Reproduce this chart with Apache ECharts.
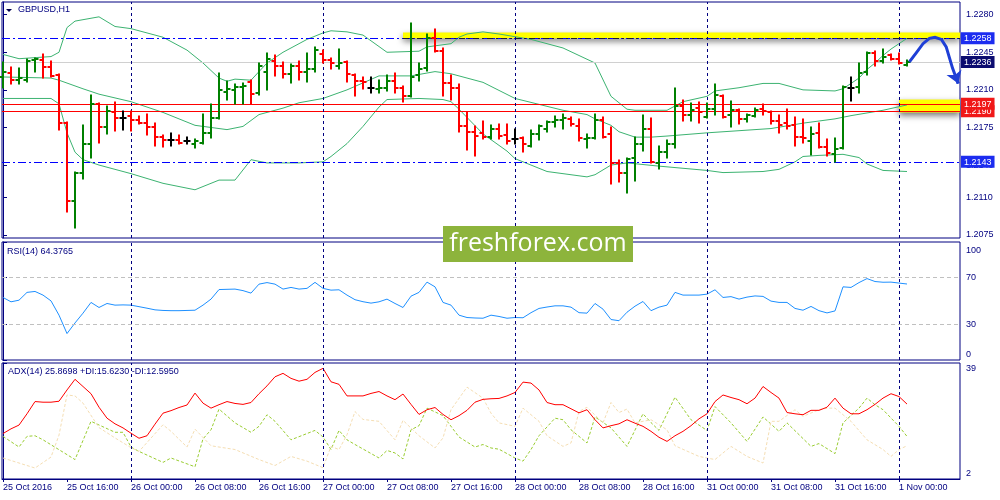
<!DOCTYPE html>
<html><head><meta charset="utf-8">
<script src="https://cdn.jsdelivr.net/npm/echarts@6/dist/echarts.min.js"></script>
<style>html,body{margin:0;padding:0;background:#fff}#c{width:1000px;height:500px}</style>
</head><body><div id="c"></div><script>
// ---------------- DATA ----------------
const timeTickIdx = [0,8,16,24,32,40,48,56,64,72,80,88,96,104,112];
const timeLabels = ["25 Oct 2016","25 Oct 16:00","26 Oct 00:00","26 Oct 08:00","26 Oct 16:00","27 Oct 00:00","27 Oct 08:00","27 Oct 16:00","28 Oct 00:00","28 Oct 08:00","28 Oct 16:00","31 Oct 00:00","31 Oct 08:00","31 Oct 16:00","1 Nov 00:00"];
const daySeparators = [16,40,64,88,112];
const priceTicks = [1.2075,1.2110,1.2140,1.2175,1.2210,1.2245,1.2280];
const markPrices = [1.2143,1.2190,1.2197,1.2236,1.2258];
const rsiTicks = [0,30,70,100];
const rsiLevels = [70,30];
const adxTicks = [2,39];

const opens = [
1.2222,1.2226,1.2219,1.2219,1.2238,1.2238,1.2231,1.2224,1.2179,1.2107,
1.2133,1.2160,1.2197,1.2175,1.2189,1.2184,1.2186,1.2182,1.2179,1.2175,
1.2166,1.2163,1.2163,1.2162,1.2160,1.2161,1.2170,1.2184,1.2208,1.2210,
1.2213,1.2217,1.2207,1.2227,1.2237,1.2232,1.2225,1.2232,1.2227,1.2229,
1.2243,1.2238,1.2232,1.2236,1.2224,1.2218,1.2212,1.2211,1.2212,1.2218,
1.2212,1.2204,1.2224,1.2230,1.2258,1.2246,1.2216,1.2212,1.2176,1.2171,
1.2170,1.2166,1.2174,1.2168,1.2164,1.2165,1.2158,1.2169,1.2174,1.2180,
1.2182,1.2183,1.2176,1.2164,1.2165,1.2182,1.2169,1.2142,1.2133,1.2147,
1.2160,1.2174,1.2142,1.2152,1.2160,1.2195,1.2187,1.2193,1.2185,1.2192,
1.2204,1.2187,1.2191,1.2183,1.2186,1.2192,1.2189,1.2181,1.2179,1.2177,
1.2166,1.2162,1.2170,1.2157,1.2150,1.2156,1.2212,1.2213,1.2227,1.2244,
1.2237,1.2242,1.2239,1.2233];
const highs = [
1.2236,1.2231,1.2230,1.2239,1.2240,1.2243,1.2237,1.2225,1.2180,1.2134,
1.2177,1.2205,1.2198,1.2195,1.2199,1.2190,1.2190,1.2186,1.2188,1.2179,
1.2168,1.2170,1.2168,1.2166,1.2164,1.2188,1.2197,1.2226,1.2218,1.2215,
1.2216,1.2219,1.2235,1.2244,1.2242,1.2236,1.2234,1.2237,1.2244,1.2250,
1.2247,1.2240,1.2248,1.2237,1.2225,1.2222,1.2222,1.2219,1.2224,1.2226,
1.2214,1.2272,1.2235,1.2262,1.2267,1.2249,1.2224,1.2215,1.2189,1.2176,
1.2181,1.2177,1.2178,1.2178,1.2174,1.2166,1.2173,1.2177,1.2181,1.2186,
1.2188,1.2185,1.2183,1.2169,1.2188,1.2185,1.2175,1.2145,1.2147,1.2166,
1.2187,1.2184,1.2158,1.2163,1.2212,1.2201,1.2198,1.2199,1.2198,1.2215,
1.2205,1.2200,1.2192,1.2188,1.2193,1.2197,1.2190,1.2187,1.2192,1.2185,
1.2183,1.2175,1.2179,1.2164,1.2165,1.2214,1.2222,1.2235,1.2245,1.2246,
1.2248,1.2243,1.2244,1.2238];
const lows = [
1.2212,1.2215,1.2215,1.2217,1.2227,1.2221,1.2222,1.2173,1.2096,1.2081,
1.2127,1.2147,1.2161,1.2169,1.2172,1.2173,1.2172,1.2178,1.2168,1.2158,
1.2157,1.2158,1.2160,1.2160,1.2156,1.2160,1.2165,1.2183,1.2201,1.2197,
1.2197,1.2197,1.2205,1.2210,1.2223,1.2221,1.2216,1.2219,1.2217,1.2227,
1.2235,1.2229,1.2229,1.2217,1.2204,1.2211,1.2207,1.2207,1.2209,1.2207,
1.2199,1.2203,1.2218,1.2228,1.2245,1.2204,1.2201,1.2171,1.2154,1.2148,
1.2164,1.2164,1.2164,1.2160,1.2160,1.2152,1.2157,1.2163,1.2171,1.2175,
1.2174,1.2176,1.2162,1.2156,1.2164,1.2165,1.2122,1.2124,1.2114,1.2125,
1.2153,1.2142,1.2136,1.2147,1.2156,1.2181,1.2181,1.2179,1.2184,1.2187,
1.2184,1.2175,1.2178,1.2180,1.2185,1.2187,1.2178,1.2170,1.2174,1.2158,
1.2161,1.2149,1.2156,1.2148,1.2143,1.2155,1.2200,1.2207,1.2224,1.2232,
1.2235,1.2238,1.2234,1.2232];
const closes = [
1.2227,1.2219,1.2221,1.2237,1.2239,1.2231,1.2223,1.2179,1.2107,1.2133,
1.2160,1.2197,1.2175,1.2190,1.2184,1.2184,1.2182,1.2179,1.2175,1.2166,
1.2163,1.2163,1.2161,1.2162,1.2162,1.2170,1.2184,1.2210,1.2211,1.2213,
1.2214,1.2206,1.2232,1.2239,1.2232,1.2225,1.2232,1.2227,1.2229,1.2247,
1.2238,1.2235,1.2235,1.2225,1.2218,1.2217,1.2212,1.2212,1.2218,1.2212,
1.2204,1.2222,1.2229,1.2258,1.2246,1.2216,1.2212,1.2176,1.2171,1.2167,
1.2166,1.2174,1.2167,1.2162,1.2164,1.2160,1.2169,1.2176,1.2180,1.2182,
1.2184,1.2178,1.2165,1.2165,1.2182,1.2166,1.2142,1.2133,1.2146,1.2160,
1.2174,1.2143,1.2152,1.2160,1.2195,1.2187,1.2191,1.2189,1.2192,1.2205,
1.2185,1.2191,1.2183,1.2187,1.2191,1.2190,1.2181,1.2177,1.2176,1.2166,
1.2165,1.2169,1.2157,1.2151,1.2155,1.2213,1.2212,1.2226,1.2244,1.2237,
1.2241,1.2239,1.2235,1.2236];

const upperBand = [[0,1.2243],[2,1.2239],[6,1.2241],[7,1.2245],[8,1.2268],[9,1.2274],[12,1.2278],[14,1.2269],[16,1.2267],[20,1.2259],[23,1.2247],[25,1.2235],[27,1.2221],[28,1.2218],[29,1.2220],[31,1.2219],[33,1.2235],[35,1.2245],[38,1.2257],[40,1.2263],[41,1.2265],[43,1.2264],[45,1.2261],[48,1.2245],[52,1.2246],[53,1.2250],[56,1.2253],[57,1.2259],[58,1.2262],[60,1.2264],[62,1.2262],[66,1.2257],[70,1.2249],[74,1.2235],[76,1.2204],[78,1.2192],[79,1.2191],[82,1.2191],[83,1.2191],[85,1.2199],[88,1.2204],[89,1.2209],[92,1.2212],[95,1.2216],[97,1.2216],[100,1.2210],[104,1.2209],[105,1.2211],[106,1.2216],[107,1.2221],[108,1.2229],[109,1.2235],[110,1.2242],[111,1.2248],[112,1.2253],[113,1.2258]];
const middleBand = [[0,1.2222],[6,1.2221],[7,1.2219],[10,1.2211],[12,1.2206],[16,1.2199],[20,1.2189],[24,1.2177],[28,1.2173],[30,1.2176],[32,1.2187],[35,1.2193],[37,1.2198],[40,1.2202],[43,1.2210],[47,1.2223],[51,1.2223],[54,1.2227],[56,1.2225],[58,1.2221],[60,1.2217],[64,1.2202],[70,1.2191],[73,1.2187],[74,1.2183],[76,1.2177],[77,1.2171],[79,1.2166],[81,1.2166],[83,1.2167],[88,1.2170],[92,1.2172],[96,1.2174],[100,1.2179],[104,1.2183],[106,1.2186],[110,1.2191],[113,1.2196]];
const lowerBand = [[0,1.2202],[6,1.2202],[7,1.2197],[8,1.2170],[9,1.2152],[10,1.2145],[12,1.2140],[16,1.2132],[20,1.2123],[24,1.2117],[27,1.2126],[29,1.2126],[31,1.2145],[33,1.2142],[37,1.2142],[40,1.2143],[41,1.2148],[43,1.2160],[45,1.2176],[47,1.2194],[48,1.2201],[52,1.2202],[55,1.2201],[56,1.2199],[57,1.2192],[60,1.2169],[63,1.2153],[64,1.2146],[68,1.2134],[73,1.2129],[74,1.2131],[76,1.2140],[78,1.2142],[82,1.2139],[85,1.2137],[88,1.2135],[90,1.2133],[95,1.2134],[97,1.2136],[99,1.2143],[100,1.2148],[102,1.2149],[105,1.2150],[107,1.2147],[108,1.2141],[110,1.2135],[113,1.2134]];

const rsiValues = [
53.0,49.3,50.7,57.3,58.1,55.0,50.1,38.0,22.4,31.4,
39.7,48.8,44.5,47.9,46.5,46.7,46.5,45.2,43.9,42.5,
42.0,41.8,41.8,42.0,42.2,46.5,51.6,59.7,59.9,60.1,
58.8,56.7,64.3,65.6,64.3,60.1,61.5,60.1,60.7,65.8,
60.7,59.2,59.5,55.0,51.1,49.4,48.2,49.3,51.6,47.9,
44.5,54.1,57.3,66.0,62.0,48.8,46.5,38.0,36.0,35.6,
35.4,38.0,36.9,35.4,36.0,35.8,40.1,43.7,44.9,45.9,
45.9,44.8,40.1,39.7,47.9,43.1,34.3,33.3,40.5,45.6,
49.6,41.8,44.8,46.5,57.3,55.0,55.0,55.0,55.8,59.5,
53.0,53.7,51.6,53.3,54.3,53.9,49.9,48.8,48.8,43.7,
42.2,45.4,41.8,39.9,41.6,62.0,61.5,65.6,69.0,66.5,
65.9,66.0,65.2,64.4];

const adxValues = [
16.5,18.0,19.2,22.8,26.7,26.5,26.5,26.8,30.4,33.8,
31.5,29.2,24.9,21.4,19.6,18.3,16.6,15.0,15.8,19.5,
23.0,23.8,24.8,25.6,29.4,26.2,24.6,25.7,26.7,26.1,
25.8,26.4,29.2,31.7,34.6,35.7,34.1,33.2,33.8,36.0,
37.3,33.0,32.2,28.5,28.5,28.5,29.3,29.9,28.5,27.3,
29.1,25.8,22.6,24.1,24.8,22.6,20.9,22.2,23.9,26.5,
27.4,27.6,27.7,28.5,29.6,32.9,32.6,30.4,26.4,25.7,
25.7,24.4,23.1,24.1,20.9,18.3,19.0,19.6,20.9,19.8,
18.8,17.2,15.3,14.0,15.8,17.2,19.0,21.2,22.8,26.7,
28.8,28.0,27.3,26.0,27.8,31.5,29.6,27.8,23.2,22.8,
22.5,23.9,23.9,24.9,27.8,24.6,22.8,22.8,24.1,25.8,
27.8,29.2,28.3,25.9];

const plusDI = [[0,15.6],[2,12.2],[3,15.6],[4,15.8],[5,14.5],[9,8.2],[11,20.4],[14,16.9],[15,16.9],[16,12.2],[17,10.8],[20,7.3],[21,8.7],[24,5.9],[25,14.8],[26,17.7],[27,24.3],[29,19.9],[31,16.9],[32,18.8],[33,22.5],[34,20.4],[36,14.5],[39,17.5],[40,15.4],[41,11.4],[42,17.5],[43,14.5],[44,13.0],[47,8.7],[48,11.1],[49,10.3],[50,8.4],[51,17.7],[52,19.0],[53,24.6],[55,22.2],[57,15.4],[59,12.2],[60,13.0],[61,11.9],[62,11.5],[64,8.7],[65,7.7],[66,11.4],[67,15.8],[69,21.4],[70,20.9],[71,17.7],[73,13.5],[74,21.8],[76,18.3],[78,12.4],[80,22.8],[81,20.0],[82,17.5],[84,28.1],[86,20.9],[88,17.5],[89,25.1],[91,19.9],[93,14.0],[95,21.8],[97,17.2],[98,19.9],[101,12.4],[102,13.3],[104,10.1],[105,19.9],[107,24.6],[108,27.8],[109,25.7],[110,24.1],[112,18.8],[113,15.6]];
const minusDI = [[0,8.7],[2,7.1],[4,5.5],[6,9.0],[7,16.0],[8,28.8],[9,28.5],[10,26.2],[12,18.4],[14,15.1],[16,12.0],[17,10.8],[20,19.3],[21,17.2],[23,12.2],[24,17.9],[26,12.6],[29,11.4],[32,8.2],[34,6.3],[36,9.2],[38,7.7],[40,5.6],[41,12.4],[42,11.4],[43,16.1],[44,23.5],[45,21.0],[47,20.4],[49,14.5],[50,20.7],[52,15.8],[54,11.9],[55,15.1],[56,24.1],[58,31.3],[60,27.8],[61,23.0],[62,19.9],[64,18.8],[65,24.6],[67,20.4],[68,15.8],[70,12.4],[71,13.5],[72,23.5],[73,24.9],[75,19.9],[76,26.4],[77,23.2],[78,24.3],[79,19.9],[81,20.9],[83,17.7],[84,12.6],[87,9.2],[89,8.2],[91,12.4],[93,9.2],[95,7.1],[96,20.4],[97,20.4],[99,24.1],[100,22.0],[102,24.1],[103,24.6],[104,24.6],[106,20.4],[108,14.5],[110,11.4],[111,9.2],[112,11.4],[113,12.6]];

// hand-drawn forecast arrow (bar index, price)
const arrowPath = [[113.3,1.2236],[114.2,1.2245],[115.0,1.2253],[115.8,1.2258],[116.5,1.2259],[117.3,1.2257],[117.9,1.2250],[118.3,1.2240],[118.7,1.2230],[119.0,1.2224],[119.4,1.2216]];
// highlight zones [startIndex, lowPrice, highPrice]
const zoneTop = [50, 1.2258, 1.22635];
const zoneBottom = [112, 1.2189, 1.2201];

// ---------------- CHART ----------------
const FONT = '"Liberation Sans", Arial, sans-serif';
const NAVY = '#000080';
const XMIN = -0.125, XMAX = 119.625;
const chart = echarts.init(document.getElementById('c'));
const barData = opens.map((o,i)=>[i,o,highs[i],lows[i],closes[i]]);
const near = (a,b)=>Math.abs(a-b)<1e-7;

function renderBar(params, api){
  const i=api.value(0), o=api.value(1), h=api.value(2), l=api.value(3), c=api.value(4);
  const pH=api.coord([i,h]), pL=api.coord([i,l]), pO=api.coord([i,o]), pC=api.coord([i,c]);
  const col = c>o ? '#008000' : (c<o ? '#ff0000' : '#000000');
  const x = Math.round(pH[0]);
  const st = {stroke:col, lineWidth:2};
  return {type:'group', children:[
    {type:'line', shape:{x1:x, y1:Math.round(pH[1])-0.5, x2:x, y2:Math.round(pL[1])+0.5}, style:st},
    {type:'line', shape:{x1:x-3.5, y1:Math.round(pO[1]), x2:x, y2:Math.round(pO[1])}, style:st},
    {type:'line', shape:{x1:x, y1:Math.round(pC[1]), x2:x+3.5, y2:Math.round(pC[1])}, style:st}
  ]};
}
const dayLines = {silent:true, symbol:['none','none'], label:{show:false}, emphasis:{disabled:true},
  lineStyle:{color:NAVY, type:[3,3], width:1}, data: daySeparators.map(v=>({xAxis:v}))};

function xAx(gi, show){
  const a = {gridIndex:gi, type:'value', min:XMIN, max:XMAX, splitLine:{show:false}};
  if(!show){ a.show=false; return a; }
  a.axisLine={show:true, lineStyle:{color:NAVY}};
  a.axisTick={show:true, length:3, customValues:timeTickIdx, lineStyle:{color:NAVY}};
  a.axisLabel={customValues:timeTickIdx, formatter:v=>timeLabels[timeTickIdx.indexOf(v)], align:'left',
    color:NAVY, fontSize:9, fontFamily:FONT, margin:4};
  return a;
}
const markStyle = ['blue','red','red','navy','blue'];
const boxBase = {color:'#fff', fontSize:9, fontFamily:FONT, padding:[2,3,1,3]};
const lastSeg = arrowPath.slice(-2);

const option = {
  animation:false,
  backgroundColor:'#ffffff',
  grid:[
    {left:2, top:2, width:958, height:236, show:true, borderColor:NAVY, borderWidth:1},
    {left:2, top:242, width:958, height:118, show:true, borderColor:NAVY, borderWidth:1},
    {left:2, top:363, width:958, height:116, show:true, borderColor:NAVY, borderWidth:1}
  ],
  xAxis:[xAx(0,false), xAx(1,false), xAx(2,true)],
  yAxis:[
    {gridIndex:0, type:'value', position:'right', min:1.20721, max:1.22918, splitLine:{show:false},
     axisLine:{show:true, lineStyle:{color:NAVY}},
     axisTick:{show:true, length:4, customValues:priceTicks, lineStyle:{color:NAVY}},
     axisLabel:{customValues:priceTicks, formatter:v=>v.toFixed(4), color:NAVY, fontSize:9, fontFamily:FONT, margin:6}},
    {gridIndex:0, type:'value', position:'right', offset:0, min:1.20721, max:1.22918, splitLine:{show:false},
     axisLine:{show:false}, axisTick:{show:false}, z:10,
     axisLabel:{customValues:markPrices, margin:1,
       formatter:v=>{const k=markPrices.findIndex(p=>near(p,v)); return '{'+markStyle[k]+'|'+v.toFixed(4)+'}';},
       rich:{blue:Object.assign({backgroundColor:'#1c2cf0'},boxBase),
             navy:Object.assign({backgroundColor:'#0c0c70'},boxBase),
             red:Object.assign({backgroundColor:'#f01818'},boxBase)}}},
    {gridIndex:1, type:'value', position:'right', min:0, max:100, splitLine:{show:false},
     axisLine:{show:true, lineStyle:{color:NAVY}},
     axisTick:{show:true, length:4, customValues:rsiTicks, lineStyle:{color:NAVY}},
     axisLabel:{customValues:rsiTicks, margin:6, color:NAVY, fontSize:9, fontFamily:FONT,
       formatter:v=> v===100 ? '{t|100}' : (v===0 ? '{b|0}' : String(v)),
       rich:{t:{padding:[18,0,0,0], color:NAVY, fontSize:9, fontFamily:FONT},
             b:{padding:[0,0,10,0], color:NAVY, fontSize:9, fontFamily:FONT}}}},
    {gridIndex:2, type:'value', position:'right', min:2, max:39, splitLine:{show:false},
     axisLine:{show:true, lineStyle:{color:NAVY}},
     axisTick:{show:true, length:4, customValues:adxTicks, lineStyle:{color:NAVY}},
     axisLabel:{customValues:adxTicks, margin:6, color:NAVY, fontSize:9, fontFamily:FONT,
       formatter:v=> v===39 ? '{t|39}' : '{b|2}',
       rich:{t:{padding:[12,0,0,0], color:NAVY, fontSize:9, fontFamily:FONT},
             b:{padding:[0,0,10,0], color:NAVY, fontSize:9, fontFamily:FONT}}}}
  ],
  series:[
    {type:'line', name:'bbUpper', xAxisIndex:0, yAxisIndex:0, data:upperBand, symbol:'none', z:2,
     lineStyle:{color:'#3cb371', width:1}, silent:true},
    {type:'line', name:'bbMiddle', xAxisIndex:0, yAxisIndex:0, data:middleBand, symbol:'none', z:2,
     lineStyle:{color:'#3cb371', width:1}, silent:true,
     markArea:{silent:true, itemStyle:{color:'#ffff00', shadowBlur:6, shadowColor:'rgba(0,0,0,0.55)', shadowOffsetY:3},
       data:[[{coord:[zoneTop[0],zoneTop[1]]},{coord:[XMAX,zoneTop[2]]}],
             [{coord:[zoneBottom[0],zoneBottom[1]]},{coord:[XMAX,zoneBottom[2]]}]]},
     markLine:{silent:true, precision:6, symbol:['none','none'], label:{show:false}, emphasis:{disabled:true},
       data:[
         {yAxis:markPrices[4], lineStyle:{color:'#0000ff', type:[8,3,2,3], width:1}},
         [{coord:[zoneTop[0],markPrices[4]], lineStyle:{color:'#1a1a30', type:[6,3,2,3], width:1}},{coord:[XMAX,markPrices[4]]}],
         {yAxis:markPrices[3], lineStyle:{color:'#d0d0d0', type:'solid', width:1}},
         {yAxis:markPrices[2], lineStyle:{color:'#ff0000', type:'solid', width:1}},
         {yAxis:markPrices[1], lineStyle:{color:'#ff0000', type:'solid', width:1}},
         {yAxis:markPrices[0], lineStyle:{color:'#0000ff', type:[8,3,2,3], width:1}}
       ]}},
    {type:'line', name:'bbLower', xAxisIndex:0, yAxisIndex:0, data:lowerBand, symbol:'none', z:2,
     lineStyle:{color:'#3cb371', width:1}, silent:true},
    {type:'custom', name:'bars', xAxisIndex:0, yAxisIndex:0, data:barData, renderItem:renderBar, z:5,
     encode:{x:0, y:[1,2,3,4]}, silent:true, markLine:dayLines},
    {type:'lines', name:'arrow', coordinateSystem:'cartesian2d', xAxisIndex:0, yAxisIndex:0, polyline:true, z:8,
     silent:true, lineStyle:{color:'#1f3fd6', width:3, opacity:1},
     data:[{coords:arrowPath}]},
    {type:'lines', name:'arrowHead', coordinateSystem:'cartesian2d', xAxisIndex:0, yAxisIndex:0, z:8,
     symbol:['none','arrow'], symbolSize:[10,12], silent:true,
     lineStyle:{color:'#1f3fd6', width:3, opacity:1},
     data:[{coords:lastSeg}]},
    {type:'line', name:'rsi', xAxisIndex:1, yAxisIndex:2, data:rsiValues.map((v,i)=>[i,v]), symbol:'none',
     lineStyle:{color:'#1e90ff', width:1}, silent:true, z:3,
     markLine:{silent:true, symbol:['none','none'], label:{show:false}, emphasis:{disabled:true},
       data:rsiLevels.map(v=>({yAxis:v, lineStyle:{color:'#c0c0c0', type:[4,3], width:1}}))
         .concat(daySeparators.map(v=>({xAxis:v, lineStyle:{color:NAVY, type:[3,3], width:1}})))}},
    {type:'line', name:'plusDI', xAxisIndex:2, yAxisIndex:3, data:plusDI, symbol:'none', z:2,
     lineStyle:{color:'#9acd32', width:1, type:[3,2]}, silent:true},
    {type:'line', name:'minusDI', xAxisIndex:2, yAxisIndex:3, data:minusDI, symbol:'none', z:2,
     lineStyle:{color:'#f5deb3', width:1, type:[3,2]}, silent:true},
    {type:'line', name:'adx', xAxisIndex:2, yAxisIndex:3, data:adxValues.map((v,i)=>[i,v]), symbol:'none', z:3,
     lineStyle:{color:'#ff0000', width:1}, silent:true, markLine:dayLines}
  ],
  graphic:[
    {type:'polygon', shape:{points:[[6,9],[12,9],[9,12]]}, style:{fill:'#000050'}, z:50},
    {type:'text', x:18, y:10, z:50, style:{text:'GBPUSD,H1', fill:NAVY, fontSize:9, fontFamily:FONT, verticalAlign:'middle'}},
    {type:'text', x:7, y:252, z:50, style:{text:'RSI(14) 64.3765', fill:NAVY, fontSize:9, fontFamily:FONT, verticalAlign:'middle'}},
    {type:'text', x:8, y:372, z:50, style:{text:'ADX(14) 25.8698 +DI:15.6230 -DI:12.5950', fill:NAVY, fontSize:9, fontFamily:FONT, verticalAlign:'middle'}},
    {type:'rect', shape:{x:443, y:226, width:190, height:36}, style:{fill:'#8db43c'}, z:100},
    {type:'text', x:538, y:244, z:101, style:{text:'freshforex.com', fill:'#ffffff', fontSize:25, fontFamily:'"Open Sans", "Noto Sans", sans-serif', align:'center', verticalAlign:'middle'}}
  ]
};
chart.setOption(option);
</script></body></html>
